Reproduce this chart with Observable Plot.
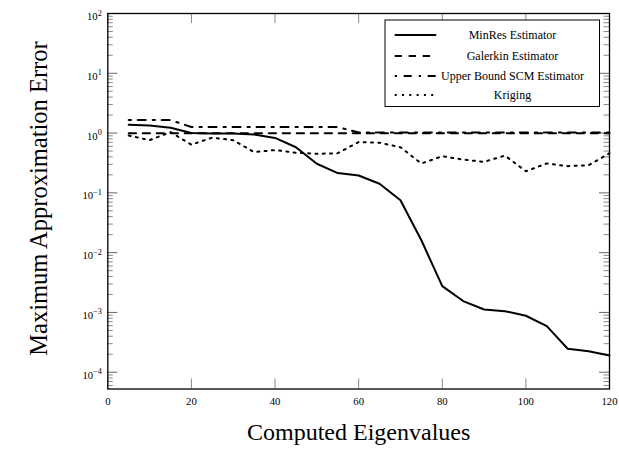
<!DOCTYPE html>
<html>
<head>
<meta charset="utf-8">
<script src="https://cdn.jsdelivr.net/npm/d3@7"></script>
<script src="https://cdn.jsdelivr.net/npm/@observablehq/plot@0.6"></script>
<style>
  html, body { margin: 0; padding: 0; background: #fff; }
  #chart svg { font-family: "Liberation Serif", "Times New Roman", serif; display: block; }
</style>
</head>
<body>
<div id="chart"></div>
<script>
// ---- Data ----
const eigenCounts = [5, 10, 15, 20, 25, 30, 35, 40, 45, 50, 55, 60, 65, 70, 75, 80, 85, 90, 95, 100, 105, 110, 115, 120];
const minresError = [1.38, 1.34, 1.23, 1.0, 0.985, 0.985, 0.95, 0.83, 0.58, 0.307, 0.214, 0.195, 0.142, 0.075, 0.0161, 0.00275, 0.00155, 0.00112, 0.00105, 0.00088, 0.00059, 0.000247, 0.000225, 0.000191];
const galerkinError = [0.99, 0.99, 0.99, 0.99, 0.99, 0.99, 0.99, 0.99, 0.99, 0.99, 0.99, 0.99, 0.99, 0.99, 0.99, 0.99, 0.99, 0.99, 0.99, 0.99, 0.99, 0.99, 0.99, 0.99];
const upperBoundError = [1.65, 1.65, 1.65, 1.26, 1.26, 1.26, 1.26, 1.26, 1.26, 1.26, 1.26, 1.02, 1.02, 1.02, 1.02, 1.02, 1.02, 1.02, 1.02, 1.02, 1.02, 1.02, 1.02, 1.02];
const krigingError = [0.91, 0.76, 1.04, 0.64, 0.84, 0.76, 0.48, 0.52, 0.47, 0.45, 0.46, 0.71, 0.69, 0.58, 0.31, 0.41, 0.36, 0.33, 0.42, 0.23, 0.31, 0.28, 0.29, 0.46];
const seriesNames = ["MinRes Estimator", "Galerkin Estimator", "Upper Bound SCM Estimator", "Kriging"];
const xTicks = [0, 20, 40, 60, 80, 100, 120];
const yTickExponents = [-4, -3, -2, -1, 0, 1, 2];
const xTitle = "Computed Eigenvalues";
const yTitle = "Maximum Approximation Error";

// ---- Styles ----
const dashStyles = [null, "7.3 6.7", "2.3 6.7 8 7", "2 5.3"];

// ---- Build table ----
const seriesValues = [minresError, galerkinError, upperBoundError, krigingError];
const rows = [];
seriesValues.forEach((vals, si) => {
  vals.forEach((v, i) => rows.push({x: eigenCounts[i], y: v, series: seriesNames[si]}));
});
const yTicks = yTickExponents.map(e => Math.pow(10, e));
const yDomain = [5.24e-5, 100];
const minorTicks = [];
for (let e = -5; e < 2; e++) {
  for (let k = 2; k <= 9; k++) {
    const v = k * Math.pow(10, e);
    if (v >= yDomain[0] && v <= yDomain[1]) minorTicks.push(v);
  }
}

const W = 619, H = 458;
const mL = 107.3, mR = 10, mT = 13, mB = 69.5;
const frameW = W - mL - mR, frameH = H - mT - mB;
const majorLen = 10, minorLen = 5.5;

const marks = [];
// ticks on x (top and bottom, inward)
marks.push(Plot.tickX(xTicks, {x: d => d, insetTop: frameH - majorLen, stroke: "#8a8a8a", strokeWidth: 1}));
marks.push(Plot.tickX(xTicks, {x: d => d, insetBottom: frameH - majorLen, stroke: "#8a8a8a", strokeWidth: 1}));
// y minor ticks (left and right)
marks.push(Plot.tickY(minorTicks, {y: d => d, insetRight: frameW - minorLen, stroke: "#8a8a8a", strokeWidth: 1}));
marks.push(Plot.tickY(minorTicks, {y: d => d, insetLeft: frameW - minorLen, stroke: "#8a8a8a", strokeWidth: 1}));
// y major ticks
marks.push(Plot.tickY(yTicks, {y: d => d, insetRight: frameW - majorLen, stroke: "#666", strokeWidth: 1}));
marks.push(Plot.tickY(yTicks, {y: d => d, insetLeft: frameW - majorLen, stroke: "#666", strokeWidth: 1}));
// series lines
seriesNames.forEach((name, i) => {
  marks.push(Plot.line(rows.filter(r => r.series === name), {
    x: "x", y: "y", stroke: "black", strokeWidth: 2,
    strokeDasharray: dashStyles[i] || undefined
  }));
});
marks.push(Plot.frame({stroke: "black", strokeWidth: 1.3}));
// axes labels
marks.push(Plot.axisX(xTicks, {anchor: "bottom", tickSize: 0, tickPadding: 8, fontSize: 10.7, label: null, tickFormat: d => String(d), fill: "black"}));
marks.push(Plot.axisY(yTicks, {anchor: "left", tickSize: 0, tickPadding: 6, fontSize: 10.7, label: null, dy: 3,
  tickFormat: d => { const e = Math.round(Math.log10(d)); return e < 0 ? "\u2212" + (-e) : String(e); }, fill: "black"}));
// axis titles
marks.push(Plot.text([xTitle], {text: d => d, frameAnchor: "bottom", dy: 50.5, fontSize: 24, fill: "black"}));
marks.push(Plot.text([yTitle], {text: d => d, frameAnchor: "left", textAnchor: "middle", rotate: -90, dx: -68.3, dy: -2.7, fontSize: 24.5, fill: "black"}));

const chart = Plot.plot({
  width: W, height: H,
  marginLeft: mL, marginRight: mR, marginTop: mT, marginBottom: mB,
  x: {domain: [0, 120], axis: null},
  y: {type: "log", domain: yDomain, axis: null},
  style: {fontFamily: '"Liberation Serif", "Times New Roman", serif', background: "white", color: "black"},
  marks
});
document.getElementById("chart").appendChild(chart);

// superscript exponents on y tick labels
const svg = d3.select(chart);
svg.selectAll('g[aria-label="y-axis tick label"] text').each(function () {
  const t = d3.select(this);
  const exp = t.text();
  t.text(null);
  t.append("tspan").text("10");
  t.append("tspan").attr("dy", -4.4).attr("font-size", "8.2px").text(exp);
});

// legend
const lg = svg.append("g").attr("class", "legend");
lg.append("rect").attr("x", 385).attr("y", 20).attr("width", 214.5).attr("height", 86.5)
  .attr("fill", "white").attr("stroke", "black").attr("stroke-width", 1);
const rowY = [35, 56, 76, 95];
seriesNames.forEach((name, i) => {
  lg.append("line").attr("x1", 394.7).attr("x2", 436.3).attr("y1", rowY[i]).attr("y2", rowY[i])
    .attr("stroke", "black").attr("stroke-width", 2)
    .attr("stroke-dasharray", dashStyles[i] || null);
  lg.append("text").attr("x", 512.5).attr("y", rowY[i]).attr("dy", "0.32em")
    .attr("text-anchor", "middle").attr("font-size", 12).attr("fill", "black").text(name);
});
</script>
</body>
</html>
